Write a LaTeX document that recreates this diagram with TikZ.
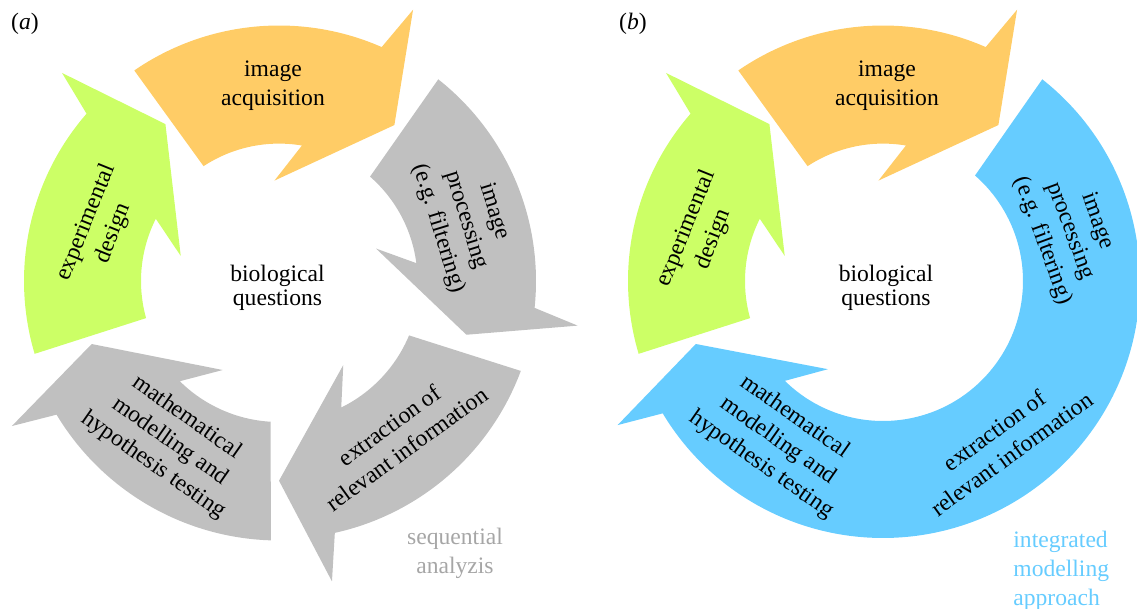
\documentclass[tikz,border=0pt]{standalone}
\usepackage{fontspec}
\setmainfont{Liberation Serif}
\usepackage{xcolor}
\usepackage{tikz}
\definecolor{acqorange}{RGB}{255,204,102}
\definecolor{designgreen}{RGB}{204,255,102}
\definecolor{stepgray}{RGB}{192,192,192}
\definecolor{loopblue}{RGB}{102,204,255}
\definecolor{notegray}{RGB}{166,166,166}

\begin{document}
\begin{tikzpicture}[x=0.5pt,y=0.5pt,every node/.style={font=\fontsize{11.8}{14.5}\selectfont,align=center,inner sep=0pt},
  acqarrow/.style={fill=acqorange},designarrow/.style={fill=designgreen},
  grayarrow/.style={fill=stepgray},bluearrow/.style={fill=loopblue},
  bioq/.style={font=\fontsize{11.8}{12}\selectfont}]
\useasboundingbox (0,0) rectangle (1137,-609);
\begin{scope}[shift={(279,-281)}]
\fill[designarrow] (195.6:138) -- (196.6:255) arc[start angle=196.6,end angle=139,radius=255] -- (136.2:300.6) -- (125.9:193.7) -- (165.7:101.4) -- (153.2:138) arc[start angle=153.2,end angle=195.6,radius=138] -- cycle;
\fill[acqarrow] (123.3:137.4) -- (124.5:255.5) arc[start angle=124.5,end angle=66.3,radius=255.5] -- (63.7:302.6) -- (53.5:194) -- (92.6:100.5) -- (80.4:137.4) arc[start angle=80.4,end angle=123.3,radius=137.4] -- cycle;
\fill[grayarrow] (48.9:138.5) -- (51.7:257) arc[start angle=51.7,end angle=-6,radius=257] -- (-8.5:302) -- (-16:195) -- (18.5:102.3) -- (7.4:138.5) arc[start angle=7.4,end angle=48.9,radius=138.5] -- cycle;
\fill[grayarrow] (-22.7:141) -- (-20.4:258) arc[start angle=-20.4,end angle=-77.5,radius=258] -- (-80:305) -- (-90:199.7) -- (-52.6:105.8) -- (-63.8:141) arc[start angle=-63.8,end angle=-22.7,radius=141] -- cycle;
\fill[grayarrow] (266.6:141) -- (268.2:259.5) arc[start angle=268.2,end angle=211,radius=259.5] -- (208.5:304) -- (198.6:197.6) -- (237.7:105.3) -- (225.3:141) arc[start angle=225.3,end angle=266.6,radius=141] -- cycle;
\end{scope}
\begin{scope}[shift={(883,-281)}]
\fill[designarrow] (195.6:138) -- (196.6:255) arc[start angle=196.6,end angle=139,radius=255] -- (136.2:300.6) -- (125.9:193.7) -- (165.7:101.4) -- (153.2:138) arc[start angle=153.2,end angle=195.6,radius=138] -- cycle;
\fill[acqarrow] (123.3:137.4) -- (124.5:255.5) arc[start angle=124.5,end angle=66.3,radius=255.5] -- (63.7:302.6) -- (53.5:194) -- (92.6:100.5) -- (80.4:137.4) arc[start angle=80.4,end angle=123.3,radius=137.4] -- cycle;
\fill[bluearrow] (48.9:140) -- (51.7:257) arc[start angle=51.7,end angle=-149,radius=257] -- (208.5:302) -- (198.6:197.5) -- (238:104) -- (225.5:140) arc[start angle=-134.5,end angle=48.9,radius=140] -- cycle;
\end{scope}
\node (laba) at (25,-24) {(\textit{a})};
\node (acqa) at (273,-86) {image\\acquisition};
\node[rotate=68] (designa) at (100,-228) {experimental\\design};
\node[bioq] (bioa) at (277.5,-287.5) {biological\\questions};
\node[rotate=-73] (proca) at (466,-220) {image\\processing\\(e.g. filtering)};
\node[rotate=36] (extra) at (398,-437) {extraction of\\relevant information};
\node[rotate=-35] (matha) at (170,-441.5) {mathematical\\modelling and\\hypothesis testing};
\node[text=notegray] (seqa) at (455,-553) {sequential\\analyzis};
\node (labb) at (633,-24) {(\textit{b})};
\node (acqb) at (887,-86) {image\\acquisition};
\node[rotate=68] (designb) at (700,-234) {experimental\\design};
\node[bioq] (biob) at (886,-287.5) {biological\\questions};
\node[rotate=-70] (procb) at (1070,-231) {image\\processing\\(e.g. filtering)};
\node[rotate=36] (extrb) at (1003,-442) {extraction of\\relevant information};
\node[rotate=-35] (mathb) at (778,-441) {mathematical\\modelling and\\hypothesis testing};
\node[text=loopblue,align=left,anchor=north west] (intb) at (1013,-531) {integrated\\modelling\\approach};
\end{tikzpicture}
\end{document}
